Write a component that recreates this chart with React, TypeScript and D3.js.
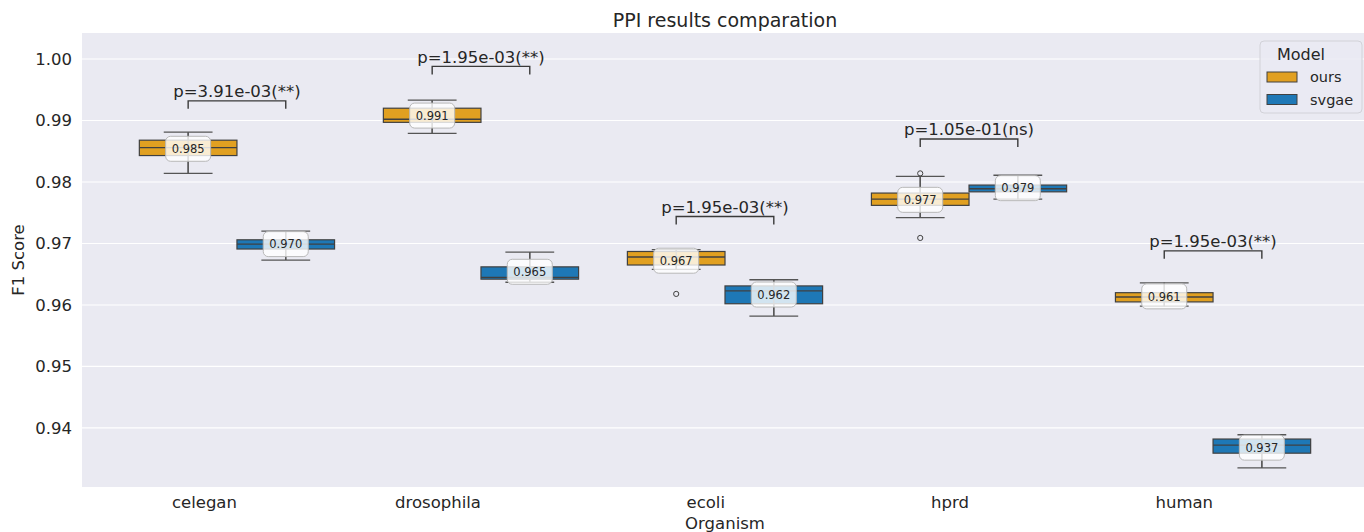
import React from "react";
import * as d3 from "d3";

const categories = ["celegan", "drosophila", "ecoli", "hprd", "human"];
const models = ["ours", "svgae"];
const modelColors = ["#E1A021", "#1E78B6"];

// box statistics per category
const oursWhiskerLow = [0.9814, 0.9879, 0.9658, 0.9742, 0.9598];
const oursQ1 = [0.9843, 0.9897, 0.9665, 0.9762, 0.9605];
const oursMedian = [0.9856, 0.9902, 0.9678, 0.9772, 0.9613];
const oursQ3 = [0.9868, 0.992, 0.9687, 0.9782, 0.962];
const oursWhiskerHigh = [0.9881, 0.9933, 0.969, 0.9809, 0.9636];
const oursMean = [0.9854, 0.9908, 0.9672, 0.9771, 0.9614];
const oursOutliers = [[], [], [0.9618], [0.9814, 0.9709], []];

const svgaeWhiskerLow = [0.9673, 0.9637, 0.9582, 0.9772, 0.9335];
const svgaeQ1 = [0.9691, 0.9642, 0.9602, 0.9784, 0.9359];
const svgaeMedian = [0.9699, 0.9645, 0.9623, 0.9789, 0.9372];
const svgaeQ3 = [0.9706, 0.9662, 0.9631, 0.9795, 0.9382];
const svgaeWhiskerHigh = [0.972, 0.9686, 0.9641, 0.9811, 0.9389];
const svgaeMean = [0.9699, 0.9654, 0.9617, 0.979, 0.9368];
const svgaeOutliers = [[], [], [], [], []];

const pTexts = ["p=3.91e-03(**)", "p=1.95e-03(**)", "p=1.95e-03(**)", "p=1.05e-01(ns)", "p=1.95e-03(**)"];
const bracketLevels = [0.9932, 0.9988, 0.9744, 0.987, 0.9688];

const yTicks = [0.94, 0.95, 0.96, 0.97, 0.98, 0.99, 1.0];

const W = 1364;
const H = 532;
const plotLeft = 82;
const plotRight = 1368;
const plotTop = 33;
const plotBottom = 487;
const FONT = "DejaVu Sans, sans-serif";
const TEXT = "#262626";

const stats = [
  { lo: oursWhiskerLow, q1: oursQ1, med: oursMedian, q3: oursQ3, hi: oursWhiskerHigh, mean: oursMean, out: oursOutliers },
  { lo: svgaeWhiskerLow, q1: svgaeQ1, med: svgaeMedian, q3: svgaeQ3, hi: svgaeWhiskerHigh, mean: svgaeMean, out: svgaeOutliers },
];

export default function App() {
  const x = d3.scaleLinear().domain([-0.635, 4.635]).range([plotLeft, plotRight]);
  const y = d3.scaleLinear().domain([0.9304, 1.00423]).range([plotBottom, plotTop]);
  const boxW = x(0.4) - x(0);
  const offsets = [-0.2, 0.2];
  const edge = "#404040";
  const whisk = "#555555";

  return (
    <div style={{ position: "fixed", left: 0, top: 0 }}>
      <svg width={W} height={H} style={{ display: "block", fontFamily: FONT }}>
        <rect x={0} y={0} width={W} height={H} fill="#ffffff" />
        <rect x={plotLeft} y={plotTop} width={plotRight - plotLeft} height={plotBottom - plotTop} fill="#EAEAF2" />
        {yTicks.map((t) => (
          <g key={t}>
            <line x1={plotLeft} x2={plotRight} y1={y(t)} y2={y(t)} stroke="#ffffff" strokeWidth={1.2} />
            <text x={72} y={y(t)} dy="0.35em" textAnchor="end" fontSize={16.5} fill={TEXT}>
              {d3.format(".2f")(t)}
            </text>
          </g>
        ))}
        {categories.map((c, i) => (
          <text key={c} x={x(i)} y={508} textAnchor="end" fontSize={16.5} fill={TEXT}>
            {c}
          </text>
        ))}
        <text x={(plotLeft + plotRight) / 2} y={529} textAnchor="middle" fontSize={16.5} fill={TEXT}>
          Organism
        </text>
        <text transform={`translate(24,${(plotTop + plotBottom) / 2}) rotate(-90)`} textAnchor="middle" fontSize={16.5} fill={TEXT}>
          F1 Score
        </text>
        <text x={(plotLeft + plotRight) / 2} y={27} textAnchor="middle" fontSize={19} fill={TEXT}>
          PPI results comparation
        </text>

        {/* boxes */}
        {categories.map((c, i) =>
          stats.map((s, m) => {
            const cx = x(i + offsets[m]);
            const capW = boxW / 2;
            return (
              <g key={c + m}>
                <line x1={cx} x2={cx} y1={y(s.hi[i])} y2={y(s.q3[i])} stroke={whisk} strokeWidth={1.3} />
                <line x1={cx} x2={cx} y1={y(s.q1[i])} y2={y(s.lo[i])} stroke={whisk} strokeWidth={1.3} />
                <line x1={cx - capW / 2} x2={cx + capW / 2} y1={y(s.hi[i])} y2={y(s.hi[i])} stroke={whisk} strokeWidth={1.3} />
                <line x1={cx - capW / 2} x2={cx + capW / 2} y1={y(s.lo[i])} y2={y(s.lo[i])} stroke={whisk} strokeWidth={1.3} />
                <rect
                  x={cx - boxW / 2}
                  y={y(s.q3[i])}
                  width={boxW}
                  height={y(s.q1[i]) - y(s.q3[i])}
                  fill={modelColors[m]}
                  stroke={edge}
                  strokeWidth={1.2}
                />
                <line x1={cx - boxW / 2} x2={cx + boxW / 2} y1={y(s.med[i])} y2={y(s.med[i])} stroke={edge} strokeWidth={1.3} />
                <line x1={cx} x2={cx} y1={y(s.hi[i])} y2={y(s.lo[i])} stroke={whisk} strokeWidth={1.2} />
                {s.out[i].map((o, k) => (
                  <circle key={k} cx={cx} cy={y(o)} r={2.6} fill="none" stroke={edge} strokeWidth={1} />
                ))}
                <rect
                  x={cx - 22.5}
                  y={y(s.mean[i]) - 12.5}
                  width={45}
                  height={25}
                  rx={5}
                  fill="#ffffff"
                  fillOpacity={0.8}
                  stroke="#b8b8b8"
                  strokeWidth={1}
                />
                <text x={cx} y={y(s.mean[i])} dy="0.36em" textAnchor="middle" fontSize={11.5} fill={TEXT}>
                  {d3.format(".3f")(s.mean[i])}
                </text>
              </g>
            );
          })
        )}

        {/* significance brackets */}
        {categories.map((c, i) => {
          const x1 = x(i - 0.2);
          const x2 = x(i + 0.2);
          const yb = y(bracketLevels[i]);
          return (
            <g key={"b" + c}>
              <path d={`M${x1},${yb + 8}V${yb}H${x2}V${yb + 8}`} fill="none" stroke="#3a3a3a" strokeWidth={1.4} />
              <text x={(x1 + x2) / 2} y={yb - 3.5} textAnchor="middle" fontSize={16.5} fill={TEXT}>
                {pTexts[i]}
              </text>
            </g>
          );
        })}

        {/* legend */}
        <g>
          <rect x={1260} y={41} width={102} height={72} rx={4} fill="#EAEAF2" fillOpacity={0.8} stroke="#d2d2d8" strokeWidth={1} />
          <text x={1301} y={60} textAnchor="middle" fontSize={16} fill={TEXT}>
            Model
          </text>
          {models.map((m, k) => (
            <g key={m}>
              <rect x={1267} y={72 + k * 22.5} width={30} height={10} fill={modelColors[k]} stroke={edge} strokeWidth={1} />
              <text x={1310} y={77 + k * 22.5} dy="0.36em" fontSize={14.5} fill={TEXT}>
                {m}
              </text>
            </g>
          ))}
        </g>
      </svg>
    </div>
  );
}
